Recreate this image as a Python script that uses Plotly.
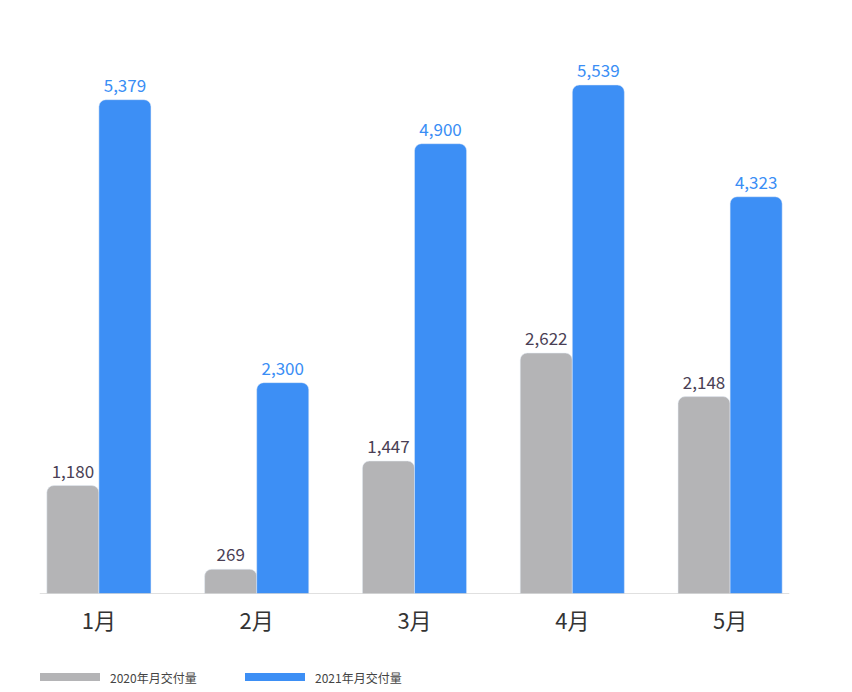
import plotly.graph_objects as go

months = ["1月", "2月", "3月", "4月", "5月"]
v2020 = [1180, 269, 1447, 2622, 2148]
v2021 = [5379, 2300, 4900, 5539, 4323]
names = ["2020年月交付量", "2021年月交付量"]
gray = "#b4b4b6"
blue = "#3d8ff5"
font = "Noto Sans CJK SC"

fig = go.Figure()
fig.add_bar(x=months, y=v2020, name=names[0], marker_color=gray,
            text=[f"{v:,}" for v in v2020], textposition="outside",
            textfont=dict(color="#4a3f55", size=17, family=font), cliponaxis=False)
fig.add_bar(x=months, y=v2021, name=names[1], marker_color=blue,
            text=[f"{v:,}" for v in v2021], textposition="outside",
            textfont=dict(color="#3a8ef5", size=17, family=font), cliponaxis=False)

fig.update_layout(
    width=844, height=684, showlegend=False,
    margin=dict(l=12, r=43, t=12, b=98),
    plot_bgcolor="white", paper_bgcolor="white",
    barmode="group", bargap=0.34, bargroupgap=0, barcornerradius=7,
    font=dict(family=font),
    xaxis=dict(showgrid=False, showline=False, ticks="", automargin=False,
               tickfont=dict(size=22, color="#333333"), ticklabelstandoff=12),
    yaxis=dict(visible=False, range=[0, 6246], automargin=False),
)
fig.add_shape(type="line", xref="paper", yref="y", x0=0.025, x1=0.975, y0=0, y1=0,
              line=dict(color="#d6d6d6", width=1.5))
# custom legend
for x0, col, name in [(40, gray, names[0]), (245, blue, names[1])]:
    fig.add_shape(type="rect", xref="paper", yref="paper",
                  x0=(x0 - 20) / 789, x1=(x0 + 40) / 789,
                  y0=-(677 - 594 + 4) / 574, y1=-(677 - 594 - 4) / 574,
                  fillcolor=col, line_width=0)
    fig.add_annotation(xref="paper", yref="paper", x=(x0 + 48) / 789,
                       y=-(677 - 594) / 574, text=name, showarrow=False,
                       xanchor="left", yanchor="middle",
                       font=dict(size=12, color="#444444", family=font))

fig.write_html("out.html")
